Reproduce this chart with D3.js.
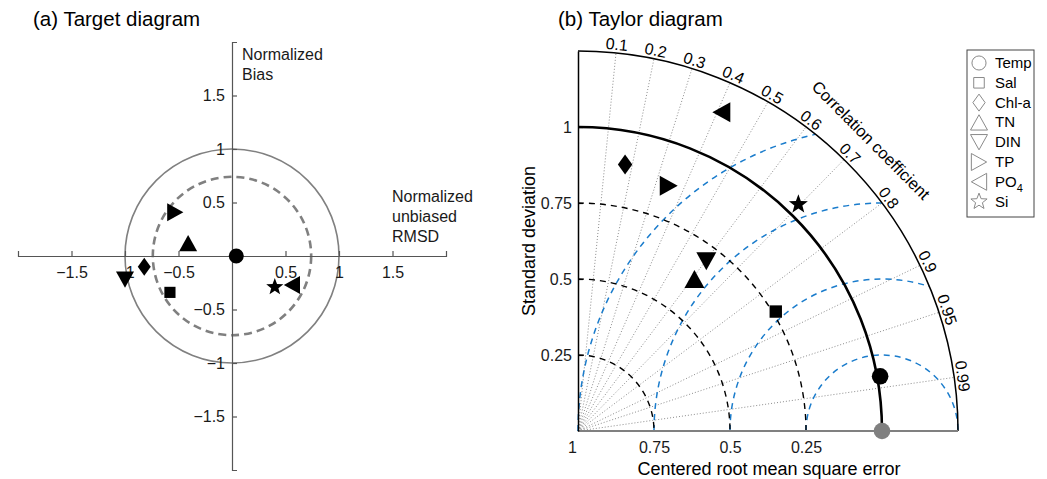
<!DOCTYPE html>
<html>
<head>
<meta charset="utf-8">
<script src="https://cdn.jsdelivr.net/npm/d3@7"></script>
<style>
body{margin:0;background:#fff;}
svg{font-family:"Liberation Sans",Arial,sans-serif;}
</style>
</head>
<body>
<svg id="chart" width="1047" height="479"></svg>
<script>

// variables, same order everywhere
var NAMES = ["Temp","Sal","Chl-a","TN","DIN","TP","PO4","Si"];
var SHAPES = ["circle","square","diamond","up","down","right","left","star"];

// target diagram: x = normalized unbiased RMSD, y = normalized bias
var TARGET_X = [0.04,-0.58,-0.82,-0.41,-1.0,-0.53,0.56,0.40];
var TARGET_Y = [0.0,-0.34,-0.10,0.12,-0.22,0.41,-0.27,-0.29];
var TARGET_TICKS = [-1.5,-1,-0.5,0.5,1,1.5];
var TARGET_RINGS = [1, 0.74];

// taylor diagram
var TAYLOR_STD = [1.01,0.76,0.89,0.63,0.70,0.86,1.15,1.04];
var TAYLOR_CORR = [0.984,0.856,0.174,0.608,0.603,0.347,0.41,0.697];
var REF_STD = 1;
var STD_MAX = 1.25;
var STD_TICKS = [0.25,0.5,0.75,1];
var STD_ARCS = [0.25,0.5,0.75];
var RMS_TICKS = [1,0.75,0.5,0.25];
var CORR_TICKS = [0.1,0.2,0.3,0.4,0.5,0.6,0.7,0.8,0.9,0.95,0.99];

var svg = d3.select("#chart");
var fmt = d3.format("~g");
var BLUE = "#1a7ccc";
var GREY = "#808080";

function marker(shape, s){
    var p = d3.path();
    if(shape=="circle"){ p.moveTo(0.83*s,0); p.arc(0,0,0.83*s,0,2*Math.PI); p.closePath(); return p.toString(); }
    if(shape=="square"){ var h=0.62*s; return "M"+(-h)+","+(-h)+"H"+h+"V"+h+"H"+(-h)+"Z"; }
    if(shape=="diamond") return "M0,"+(-s)+"L"+(0.72*s)+",0L0,"+s+"L"+(-0.72*s)+",0Z";
    if(shape=="up") return "M0,"+(-0.9*s)+"L"+s+","+(0.9*s)+"L"+(-s)+","+(0.9*s)+"Z";
    if(shape=="down") return "M0,"+(0.9*s)+"L"+s+","+(-0.9*s)+"L"+(-s)+","+(-0.9*s)+"Z";
    if(shape=="right") return "M"+(0.9*s)+",0L"+(-0.9*s)+","+(-s)+"L"+(-0.9*s)+","+s+"Z";
    if(shape=="left") return "M"+(-0.9*s)+",0L"+(0.9*s)+","+(-s)+"L"+(0.9*s)+","+s+"Z";
    // star
    var pts = [];
    for(var i=0;i<10;i++){
        var a = -Math.PI/2 + i*Math.PI/5, r = i%2==0 ? s : 0.42*s;
        pts.push([r*Math.cos(a), r*Math.sin(a)]);
    }
    return "M"+pts.join("L")+"Z";
}

function styleAxis(g, color){
    g.attr("font-family",null).attr("font-size",16);
    g.select(".domain").attr("stroke",color).attr("stroke-width",1.2);
    g.selectAll(".tick line").attr("stroke",color).attr("stroke-width",1.2);
    g.selectAll(".tick text").attr("fill","#1a1a1a");
}

// ---------------- (a) target diagram ----------------
var tx = d3.scaleLinear().domain([-2,2]).range([18,446]);
var ty = d3.scaleLinear().domain([-2,2]).range([470,42]);

svg.append("text").attr("x",33).attr("y",26).attr("font-size",20.5).text("(a) Target diagram");

var target = svg.append("g");

target.selectAll("circle.ring")
    .data(TARGET_RINGS)
    .enter().append("circle")
    .attr("class","ring")
    .attr("cx",tx(0)).attr("cy",ty(0))
    .attr("r",function(d){return tx(d)-tx(0)})
    .attr("fill","none")
    .attr("stroke",GREY)
    .attr("stroke-width",function(d,i){return i==0?1.6:2.6})
    .attr("stroke-dasharray",function(d,i){return i==0?null:"8,5"});

target.append("g")
    .attr("transform","translate(0,"+ty(0)+")")
    .call(d3.axisBottom(tx).tickValues(TARGET_TICKS).tickFormat(fmt)
        .tickSizeInner(-5).tickSizeOuter(-5).tickPadding(11))
    .call(styleAxis,"#555");

target.append("g")
    .attr("transform","translate("+tx(0)+",0)")
    .call(d3.axisLeft(ty).tickValues(TARGET_TICKS).tickFormat(fmt)
        .tickSizeInner(-5).tickSizeOuter(-5).tickPadding(7))
    .call(styleAxis,"#555");

var biasLabel = target.append("text").attr("font-size",16).attr("fill","#1a1a1a");
["Normalized","Bias"].forEach(function(t,i){
    biasLabel.append("tspan").attr("x",242).attr("y",60+i*20).text(t);
});
var rmsdLabel = target.append("text").attr("font-size",16).attr("fill","#1a1a1a");
["Normalized","unbiased","RMSD"].forEach(function(t,i){
    rmsdLabel.append("tspan").attr("x",392).attr("y",202+i*20).text(t);
});

target.selectAll("path.mark")
    .data(NAMES)
    .enter().append("path")
    .attr("class","mark")
    .attr("d",function(d,i){return marker(SHAPES[i],9)})
    .attr("transform",function(d,i){return "translate("+tx(TARGET_X[i])+","+ty(TARGET_Y[i])+")"})
    .attr("fill","#000");

// ---------------- (b) taylor diagram ----------------
var O = {x:578, y:431};
var rs = d3.scaleLinear().domain([0,STD_MAX]).range([0,380]);
var R = rs(STD_MAX);
var refX = O.x + rs(REF_STD);

function polar(std, corr){
    var a = Math.acos(corr);
    return [O.x + rs(std)*Math.cos(a), O.y - rs(std)*Math.sin(a)];
}

svg.append("text").attr("x",558).attr("y",26).attr("font-size",20.5).text("(b) Taylor diagram");

var taylor = svg.append("g");

// correlation rays
taylor.selectAll("line.ray")
    .data(CORR_TICKS)
    .enter().append("line")
    .attr("class","ray")
    .attr("x1",O.x).attr("y1",O.y)
    .attr("x2",function(d){return polar(STD_MAX,d)[0]})
    .attr("y2",function(d){return polar(STD_MAX,d)[1]})
    .attr("stroke","#8c8c8c")
    .attr("stroke-width",1)
    .attr("stroke-dasharray","1,2");

// centred RMS arcs around the reference point
taylor.selectAll("path.rms")
    .data(RMS_TICKS)
    .enter().append("path")
    .attr("class","rms")
    .attr("d",function(d){
        var xi = (STD_MAX*STD_MAX - d*d + REF_STD*REF_STD)/(2*REF_STD);
        var yi = Math.sqrt(Math.max(0, STD_MAX*STD_MAX - xi*xi));
        var end = 2*Math.PI + Math.atan2(-yi, xi-REF_STD);
        var p = d3.path();
        p.moveTo(refX - rs(d), O.y);
        p.arc(refX, O.y, rs(d), Math.PI, end, false);
        return p.toString();
    })
    .attr("fill","none")
    .attr("stroke",BLUE)
    .attr("stroke-width",1.5)
    .attr("stroke-dasharray","6,5");

// standard deviation arcs
function stdArc(d){
    var p = d3.path();
    p.moveTo(O.x, O.y - rs(d));
    p.arc(O.x, O.y, rs(d), -Math.PI/2, 0, false);
    return p.toString();
}
taylor.selectAll("path.stdarc")
    .data(STD_ARCS)
    .enter().append("path")
    .attr("class","stdarc")
    .attr("d",stdArc)
    .attr("fill","none")
    .attr("stroke","#000")
    .attr("stroke-width",1.4)
    .attr("stroke-dasharray","6,5");

taylor.append("path").attr("d",stdArc(REF_STD))
    .attr("fill","none").attr("stroke","#000").attr("stroke-width",2.6);
taylor.append("path").attr("d",stdArc(STD_MAX))
    .attr("fill","none").attr("stroke","#000").attr("stroke-width",1.5);

// horizontal axis (grey) and labels of rms
taylor.append("line")
    .attr("x1",O.x).attr("y1",O.y).attr("x2",O.x+R).attr("y2",O.y)
    .attr("stroke",GREY).attr("stroke-width",2);

var rmsX = d3.scaleLinear().domain([0,REF_STD]).range([refX,O.x]);
var bottomAxis = taylor.append("g")
    .attr("transform","translate(0,"+O.y+")")
    .call(d3.axisBottom(rmsX).tickValues(RMS_TICKS).tickFormat(fmt).tickSize(0).tickPadding(11))
    .call(styleAxis,"#000");
bottomAxis.select(".domain").remove();
bottomAxis.selectAll(".tick text").attr("dx",function(d){return d==1?-6:0});

var leftAxis = taylor.append("g")
    .attr("transform","translate("+O.x+",0)")
    .call(d3.axisLeft(d3.scaleLinear().domain([0,STD_MAX]).range([O.y,O.y-R]))
        .tickValues(STD_TICKS).tickFormat(fmt).tickSizeInner(-5).tickSizeOuter(0).tickPadding(6))
    .call(styleAxis,"#000");
leftAxis.select(".domain").attr("stroke-width",1.5);

// correlation labels
taylor.selectAll("text.corr")
    .data(CORR_TICKS)
    .enter().append("text")
    .attr("class","corr")
    .attr("font-size",16)
    .attr("text-anchor","middle")
    .attr("transform",function(d){
        var a = Math.acos(d), rr = R + 3;
        var x = O.x + rr*Math.cos(a), y = O.y - rr*Math.sin(a);
        return "translate("+x+","+y+") rotate("+(90 - a*180/Math.PI)+")";
    })
    .text(fmt);

taylor.append("text")
    .attr("font-size",16.5)
    .attr("text-anchor","middle")
    .attr("transform",function(){
        var a = 44.8*Math.PI/180, rr = 407;
        return "translate("+(O.x+rr*Math.cos(a))+","+(O.y-rr*Math.sin(a))+") rotate(45.2)";
    })
    .text("Correlation coefficient");

svg.append("text")
    .attr("font-size",18)
    .attr("text-anchor","middle")
    .attr("transform","translate(535,241) rotate(-90)")
    .text("Standard deviation");

svg.append("text")
    .attr("font-size",18)
    .attr("text-anchor","middle")
    .attr("x",769).attr("y",475)
    .text("Centered root mean square error");

// reference point
taylor.append("circle")
    .attr("cx",refX).attr("cy",O.y).attr("r",8.3)
    .attr("fill",GREY);

taylor.selectAll("path.mark")
    .data(NAMES)
    .enter().append("path")
    .attr("class","mark")
    .attr("d",function(d,i){return marker(SHAPES[i],10)})
    .attr("transform",function(d,i){
        var p = polar(TAYLOR_STD[i],TAYLOR_CORR[i]);
        return "translate("+p[0]+","+p[1]+")";
    })
    .attr("fill","#000");

// ---------------- legend ----------------
var legend = svg.append("g");
legend.append("rect")
    .attr("x",967).attr("y",50).attr("width",67).attr("height",167)
    .attr("fill","#fff").attr("stroke","#444").attr("stroke-width",1);

var item = legend.selectAll("g.item")
    .data(NAMES)
    .enter().append("g")
    .attr("class","item")
    .attr("transform",function(d,i){return "translate(979,"+(63+i*19.8)+")"});

item.append("path")
    .attr("d",function(d,i){return marker(SHAPES[i],8.5)})
    .attr("fill","none")
    .attr("stroke","#8a8a8a")
    .attr("stroke-width",1);

item.append("text")
    .attr("x",16).attr("y",5)
    .attr("font-size",15)
    .each(function(d){
        var t = d3.select(this);
        if(d=="PO4"){
            t.append("tspan").text("PO");
            t.append("tspan").attr("dy",5).attr("font-size",11).text("4");
        } else t.text(d);
    });

</script>
</body>
</html>
